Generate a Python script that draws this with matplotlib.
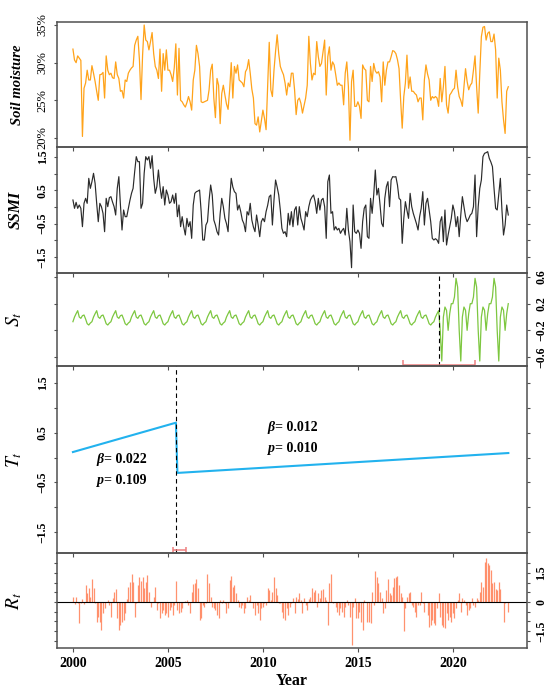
import numpy as np
import matplotlib
matplotlib.use("Agg")
import matplotlib.pyplot as plt

plt.rcParams["font.family"] = ["Liberation Serif", "DejaVu Serif"]
plt.rcParams["mathtext.fontset"] = "stix"

# monthly series, Jan 2000 .. Dec 2022
start_year = 2000

soil_moisture = [  # percent
    31.8, 30.35, 30.0, 30.9, 30.6, 30.3, 20.2, 26.6, 27.3, 29.0,
    27.7, 27.7, 29.6, 28.6, 27.5, 26.2, 25.0, 28.4, 28.45, 28.7,
    25.3, 30.9, 29.0, 28.4, 28.6, 28.0, 27.9, 30.1, 28.4, 27.9,
    26.2, 26.3, 25.3, 27.7, 27.5, 28.6, 29.0, 29.3, 29.5, 32.3,
    33.0, 33.5, 30.4, 25.1, 31.0, 35.0, 33.0, 32.8, 31.7, 32.8,
    34.0, 31.2, 29.5, 29.0, 27.9, 31.8, 26.2, 31.2, 29.0, 31.7,
    29.0, 29.0, 28.4, 27.5, 29.3, 32.5, 25.7, 31.9, 25.0, 24.8,
    24.4, 24.1, 24.7, 25.5, 24.8, 23.7, 27.7, 29.0, 32.3, 31.2,
    29.5, 24.8, 24.7, 24.8, 24.9, 25.0, 26.4, 29.0, 29.8, 25.3,
    22.7, 27.9, 27.0, 21.9, 25.9, 27.0, 25.7, 24.5, 23.8, 26.4,
    30.0, 25.3, 29.5, 28.6, 29.7, 27.7, 27.5, 27.3, 26.8, 28.8,
    29.2, 30.4, 28.6, 26.5, 25.3, 21.9, 21.7, 22.8, 20.8, 22.3,
    23.7, 22.6, 21.1, 26.8, 32.7, 26.4, 25.5, 29.0, 31.5, 33.7,
    31.2, 29.5, 28.9, 28.4, 27.3, 25.7, 27.3, 26.8, 28.6, 28.6,
    26.4, 23.1, 25.0, 25.3, 24.6, 23.3, 24.3, 25.3, 27.0, 33.5,
    29.9, 27.7, 28.6, 28.4, 32.8, 30.8, 29.5, 29.9, 31.5, 33.0,
    25.7, 30.8, 32.1, 29.0, 30.1, 29.7, 28.4, 27.0, 27.3, 27.0,
    27.0, 24.4, 28.6, 30.1, 26.8, 19.7, 27.5, 29.0, 24.2, 24.2,
    24.8, 24.2, 22.6, 29.7, 29.2, 29.0, 25.0, 24.8, 29.5, 27.5,
    29.9, 28.9, 28.6, 28.8, 28.1, 24.8, 30.1, 27.0, 29.0, 30.1,
    30.1, 30.8, 31.6, 31.5, 31.2, 30.4, 29.2, 25.0, 21.3, 25.5,
    27.3, 31.0, 26.6, 28.1, 26.2, 26.2, 25.9, 25.7, 24.8, 25.3,
    25.3, 22.4, 27.7, 29.7, 28.5, 27.7, 25.0, 25.5, 25.3, 25.5,
    25.3, 24.2, 27.9, 24.8, 26.8, 29.5, 24.4, 23.3, 25.7, 26.0,
    26.4, 26.6, 29.0, 26.8, 25.5, 25.0, 24.2, 26.8, 29.2, 27.5,
    26.4, 27.0, 27.3, 29.0, 30.9, 26.8, 23.3, 28.6, 33.45, 34.7,
    34.8, 33.0, 33.9, 34.1, 32.8, 32.8, 33.8, 31.7, 25.3, 30.6,
    29.0, 24.8, 22.4, 20.6, 26.2, 26.8,
]

ssmi = [
    0.21, -0.04, 0.14, -0.04, 0.06, -0.04, -0.59, 0.11, 0.26, 0.11,
    0.86, 0.56, 0.76, 1.01, 0.71, 0.11, -0.44, 0.11, 0.01, -0.19,
    -0.74, 0.26, 0.01, 0.28, 0.31, 0.15, 0.01, -0.24, 0.56, 0.91,
    0.06, -0.69, -0.09, -0.29, -0.29, -0.04, 0.2, 0.41, 0.56, 1.06,
    1.51, 1.36, 1.36, -0.04, 0.11, 1.01, 1.51, 1.41, 1.51, 1.16,
    1.54, 0.86, 0.41, 0.61, 1.11, 0.61, 0.26, 0.61, 0.06, 0.51,
    0.36, 0.11, 0.16, 0.36, 0.11, 0.41, -0.29, 0.06, -0.59, -0.29,
    -0.6, -0.84, -0.34, -0.59, -0.44, -0.94, 0.06, 0.41, 0.46, 0.48,
    0.51, -0.14, -0.99, -0.99, -0.54, -0.44, 0.2, 0.66, 0.36, -0.39,
    -0.54, -0.74, -0.84, -0.2, 0.26, 0.01, -0.34, -0.5, -0.74, 0.21,
    0.86, 0.6, 0.46, 0.41, -0.09, 0.06, -0.14, -0.39, -0.5, -0.74,
    -0.14, -0.24, 0.11, -0.39, -0.6, -0.74, -0.24, -0.54, -0.89, -0.44,
    -0.34, -0.44, -0.14, 0.05, 0.31, 0.36, -0.54, 0.21, 0.81, 0.6,
    0.36, -0.09, -0.64, -0.79, -0.74, -0.89, -0.19, -0.54, -0.14, -0.59,
    -0.09, 0.01, -0.54, 0.01, -0.34, -0.5, -0.69, -0.14, -0.29, 0.01,
    0.21, 0.3, 0.36, 0.16, -0.19, 0.26, -0.09, 0.21, 0.26, 0.01,
    -0.94, 0.76, 0.96, -0.19, -0.14, -0.69, -0.59, -0.69, -0.64, -0.79,
    -0.7, -0.64, -0.84, -0.04, -0.69, -1.04, -1.82, 0.06, -0.74, -0.79,
    -0.69, -0.79, -1.24, -0.44, -0.04, 0.06, -0.89, -0.94, 0.26, -0.19,
    0.36, 1.11, 0.36, 0.56, 0.06, -0.49, -0.59, 0.26, 0.61, 0.76,
    0.01, 0.81, 0.91, 0.9, 0.91, 0.66, 0.26, 0.21, -1.09, -0.34,
    0.16, -0.1, -0.34, 0.41, 0.01, -0.19, -0.34, -0.5, -0.69, -0.29,
    -0.04, 0.46, -0.54, 0.11, 0.26, -0.1, -0.44, -0.94, -0.99, -0.95,
    -0.99, -1.09, -0.44, -0.29, -1.04, -0.09, -1.14, -0.84, -0.59, -0.34,
    0.06, -0.14, -0.59, -0.29, -0.89, -0.24, 0.31, 0.0, -0.29, -0.44,
    -0.35, -0.24, -0.19, 0.01, 0.96, -0.89, 0.01, 0.56, 0.81, 1.51,
    1.61, 1.63, 1.66, 1.46, 1.35, 1.21, 0.56, -0.04, -0.09, 0.4,
    0.86, -0.09, -0.84, -0.54, 0.06, -0.24,
]

residual = [
    0.24, -0.10, 0.24, -0.07, -1.10, -0.07, 0.14, -0.10, 0.88, 0.45,
    0.71, 0.28, 1.17, 0.71, -0.07, -1.02, -0.76, -1.02, -1.45, -0.59,
    -0.33, 0.02, 0.10, -0.16, -0.76, 0.19, 0.53, 0.66, -0.84, -1.45,
    -1.19, -1.02, -0.93, -0.59, 0.14, 0.79, 1.05, 1.45, 1.02, -0.76,
    -0.07, 0.88, 1.28, 1.10, 1.31, 0.71, 1.05, 1.40, 0.53, -0.24,
    0.02, 0.28, 0.76, -0.41, -0.07, -0.84, -0.59, -0.41, -0.67, -0.59,
    -0.76, -0.41, -0.24, -0.67, -0.16, 1.10, -0.41, -0.59, -0.50, -0.33,
    0.02, 0.05, 0.10, -0.16, -0.59, 0.53, 0.93, 0.97, 1.17, 0.71,
    -0.93, -0.84, -0.16, -0.24, -0.07, 1.43, 0.97, 0.28, -0.24, -0.33,
    -0.41, -0.67, -0.84, 0.10, -0.07, 0.10, -0.07, -0.59, -0.33, 1.14,
    1.34, 0.79, 0.88, 0.45, 0.10, -0.24, -0.33, -0.16, -0.59, -0.33,
    0.28, 0.10, 0.36, 0.02, -0.33, -0.67, -0.16, -0.59, -0.93, -0.33,
    -0.24, -0.07, -0.16, 0.71, 0.62, 0.10, 0.53, 1.31, 0.71, 0.36,
    -0.07, -0.03, -0.50, -0.84, -0.93, -0.33, -0.67, -0.24, -0.07, 0.19,
    -0.59, 0.28, 0.14, 0.48,
    0.10, -0.59, 0.19, -0.16, -0.41, 0.14, 0.28, 0.71, 0.53, 0.62,
    -0.24, 0.45, 0.19, 0.62, 0.66, 0.28, 0.10, -1.19, 0.97, 1.45,
    -0.07, 0.02, -0.24, -0.50, -0.67, -0.33, -0.50, -0.76, -0.24, 0.10,
    -0.16, -0.76, -2.22, -0.24, 0.19, -0.84, -0.84, -0.50, -1.02, -1.45,
    0.10, 0.02, -1.02, -1.02, -1.10, 0.53, -0.16, 1.62, 1.31, 0.97,
    0.53, 0.19, -0.59, -0.33, 0.62, 1.17, 0.48, 0.36, 0.79, 1.22,
    1.31, 1.34, 0.88, 0.45, 0.28, -1.48, -0.33, 0.28, 0.45, 0.53,
    -0.16, -0.24, -0.50, -0.76, -0.16, -0.16, 0.53, -0.07, -0.50, 0.02,
    -0.67, -1.28, -1.19, -0.93, -1.10, -1.19, -0.33, 0.45, -0.76, -1.19,
    -1.28, -1.36, -0.59, -0.93, -0.76, -1.02, -0.59, -0.84, -0.33, 0.10,
    0.45, -0.50, 0.19, 0.10, -0.16, -0.67, -0.41, -0.33, 0.19, -0.16,
    -0.24, 0.19, 0.10, 0.53, 1.05, 0.79, 2.09, 2.26, 2.00, 1.91,
    1.66, 0.97, 1.05, 0.66, 0.62, 1.05, 0.66, 0.02, -1.02, -0.07,
    0.02, -0.50,
]

# seasonal component: one year read before and after the break
season_before = [-0.07, 0.0, 0.05, 0.095, 0.0, -0.02, 0.02, 0.03, -0.03, -0.1, -0.12, -0.09]
season_after = [-0.2, -0.66, 0.0, 0.15, 0.1, -0.2, 0.05, 0.2, 0.2, 0.3, 0.58, 0.45]
season_break_month = 232
season_break = 2019.25
season_ci = [2017.37, 2021.16]

trend_years = [2000.0, 2005.42, 2005.5, 2022.92]
trend_values = [0.11, 0.70, -0.31, 0.09]
trend_break = 2005.45
trend_ci = [2005.26, 2005.95]

n = len(soil_moisture)
t = start_year + np.arange(n) / 12
seasonal = np.concatenate([
    np.tile(season_before, 20)[:season_break_month],
    np.tile(season_after, 4)[:n - season_break_month],
])

frame_col = "#505050"
fig = plt.figure(figsize=(5.5, 6.94), dpi=100)
L, W = 0.1036, 0.8545
panels = [(0.7882, 0.1801), (0.6066, 0.1816), (0.4726, 0.1340), (0.2032, 0.2694), (0.0663, 0.1369)]
axes = [fig.add_axes([L, b, W, h]) for b, h in panels]

for ax in axes:
    ax.set_xlim(1999.16, 2023.9)
    ax.set_xticks([2000, 2005, 2010, 2015, 2020])
    for s in ax.spines.values():
        s.set_color(frame_col)
        s.set_linewidth(1.1)
    ax.tick_params(axis="x", direction="out", length=3, color=frame_col, labelbottom=False)
    ax.tick_params(axis="y", direction="out", length=2.5, color=frame_col, labelsize=8.5)
    ax.patch.set_alpha(0)

# soil moisture
ax = axes[0]
ax.plot(t, soil_moisture, color="#FFA31A", lw=0.9)
ax.set_ylim(18.8, 35.4)
ax.set_yticks([20, 25, 30, 35])
ax.set_yticklabels(["20%", "25%", "30%", "35%"], rotation=90, va="center", fontsize=9)
ax.set_ylabel("Soil moisture", fontsize=10.5, fontweight="bold", fontstyle="italic")

# SSMI
ax = axes[1]
ax.plot(t, ssmi, color="#2b2b2b", lw=0.85)
ax.set_ylim(-1.98, 1.80)
ax.set_yticks(np.arange(-1.5, 1.51, 0.5))
ax.set_yticklabels(["−1.5", "", "−0.5", "", "0.5", "", "1.5"], rotation=90, va="center",
                   fontweight="bold")
ax.tick_params(axis="y", right=True)
ax.set_ylabel("SSMI", fontsize=11.5, fontweight="bold", fontstyle="italic")

# seasonal
ax = axes[2]
ax.plot(t, seasonal, color="#7DC740", lw=0.9)
ax.axvline(season_break, color="black", ls=(0, (4, 3)), lw=0.8)
ax.set_ylim(-0.735, 0.66)
ci_y, cap = -0.72, 0.07
ax.hlines(ci_y, season_ci[0], season_ci[1], color="#EE8080", lw=1.1)
ax.vlines(season_ci, ci_y, ci_y + cap, color="#EE8080", lw=1.1)
ax.set_yticks([-0.6, -0.2, 0.2, 0.6])
ax.set_yticklabels(["−0.6", "−0.2", "0.2", "0.6"], rotation=90, va="center", fontweight="bold")
ax.tick_params(axis="y", left=True, right=True, labelleft=False, labelright=True)
ax.set_ylabel("$S_t$", fontsize=14)

# trend
ax = axes[3]
ax.plot(trend_years, trend_values, color="#22B2EE", lw=1.5)
ax.axvline(trend_break, color="black", ls=(0, (4, 3)), lw=0.8)
ax.set_ylim(-1.92, 1.84)
ci_y, cap = -1.86, 0.13
ax.hlines(ci_y, trend_ci[0], trend_ci[1], color="#EE8080", lw=1.1)
ax.vlines(trend_ci, ci_y - cap / 2, ci_y + cap / 2, color="#EE8080", lw=1.1)
ax.set_yticks(np.arange(-1.5, 1.51, 0.5))
ax.set_yticklabels(["−1.5", "", "−0.5", "", "0.5", "", "1.5"], rotation=90, va="center",
                   fontweight="bold")
ax.tick_params(axis="y", right=True)
ax.set_ylabel("$T_t$", fontsize=14)
notes = [(2001.26, -0.05, "β", "= 0.022"), (2001.26, -0.47, "p", "= 0.109"),
         (2010.26, 0.61, "β", "= 0.012"), (2010.26, 0.19, "p", "= 0.010")]
for x, y, sym, val in notes:
    ax.text(x, y, sym, fontsize=10, fontstyle="italic", fontweight="bold", va="center")
    ax.annotate(val, (x, y), xytext=(5, 0), textcoords="offset points", fontsize=10,
                fontweight="bold", va="center")

# residual
ax = axes[4]
ax.vlines(t, 0, residual, color="#FF7F55", lw=0.9, alpha=0.85)
ax.axhline(0, color="black", lw=0.8)
ax.set_ylim(-2.38, 2.54)
ax.set_yticks(np.arange(-2.0, 2.01, 0.5))
ax.set_yticklabels(["", "−1.5", "", "", "0", "", "", "1.5", ""], rotation=90, va="center",
                   fontweight="bold")
ax.tick_params(axis="y", left=True, right=True, labelleft=False, labelright=True)
ax.set_ylabel("$R_t$", fontsize=14)
ax.tick_params(axis="x", labelbottom=True, labelsize=10)
for lab in ax.get_xticklabels():
    lab.set_fontweight("bold")
ax.set_xlabel("Year", fontsize=11.5, fontweight="bold", labelpad=2)

for ax in axes:
    ax.yaxis.set_label_coords(-0.07, 0.5)

fig.savefig("out.png", dpi=100)
